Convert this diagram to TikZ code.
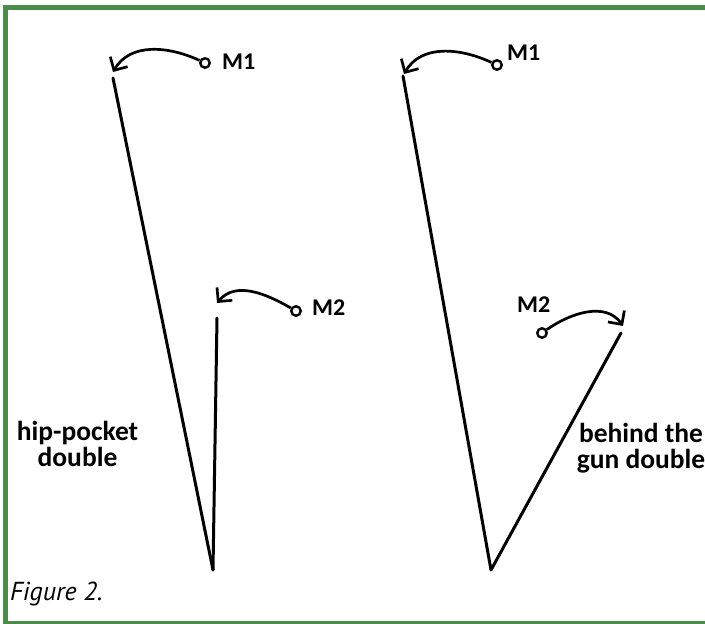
\documentclass[tikz,border=0pt]{standalone}
\usepackage{fontspec}
\setmainfont{Carlito}
\newfontfamily\capfont{PT Sans}
\usetikzlibrary{arrows.meta}
\definecolor{framegreen}{RGB}{76,140,74}
\tikzset{
  stroke/.style={line width=3pt, line cap=round},
  movearrow/.style={line width=2.7pt, -{Straight Barb[length=10pt,width=20pt,line width=2.7pt]}},
  ring/.style={circle, draw, line width=2.4pt, inner sep=0pt, minimum size=9.5pt},
  mlabel/.style={font=\fontsize{24}{26}\selectfont\bfseries, anchor=west, inner sep=0pt},
  sidelabel/.style={font=\fontsize{27.5}{26}\selectfont\bfseries, align=center, anchor=base, inner sep=0pt},
}
\begin{document}
\begin{tikzpicture}[x=1pt,y=1pt]
\useasboundingbox (0,0) rectangle (705,624);
\draw[framegreen, line width=5.2pt, line cap=butt] (705,616.8) -- (5.8,616.8) -- (5.8,0.6) -- (705,0.6);
% left figure
\coordinate (A1) at (213,54);
\coordinate (L1) at (113,546);
\coordinate (S1) at (217,306);
\draw[stroke] (L1) -- (A1);
\draw[stroke] (S1) -- (A1);
\node[ring] (c1) at (205,561) {};
\coordinate (t1) at (113,552);
\draw[movearrow] (c1) to[out=155,in=60] (t1);
\node[mlabel] (m1a) at (222,562) {M1};
\node[ring] (c2) at (296,313) {};
\coordinate (t2) at (217,321);
\draw[movearrow] (c2) to[out=150,in=50] (t2);
\node[mlabel] (m2a) at (312,316) {M2};
\node[sidelabel] (hp) at (77.5,157) {hip-pocket\\double};
% right figure
\coordinate (A2) at (491,54);
\coordinate (L2) at (403,548);
\coordinate (R2) at (621,291);
\draw[stroke] (L2) -- (A2);
\draw[stroke] (R2) -- (A2);
\node[ring] (c3) at (497,559) {};
\coordinate (t3) at (404,550);
\draw[movearrow] (c3) to[out=155,in=60] (t3);
\node[mlabel] (m1b) at (507,571) {M1};
\node[ring] (c4) at (542,291) {};
\coordinate (t4) at (623,298);
\draw[movearrow] (c4) to[out=35,in=125] (t4);
\node[mlabel] (m2b) at (517,319) {M2};
\begin{scope}
\clip (0,0) rectangle (705,624);
\node[sidelabel] (bg) at (641,155) {behind the\\gun double};
\end{scope}
\node[anchor=base west, inner sep=0pt, font=\capfont\itshape\fontsize{26}{28}\selectfont] (fig) at (10,23) {Figure 2.};
\end{tikzpicture}
\end{document}
